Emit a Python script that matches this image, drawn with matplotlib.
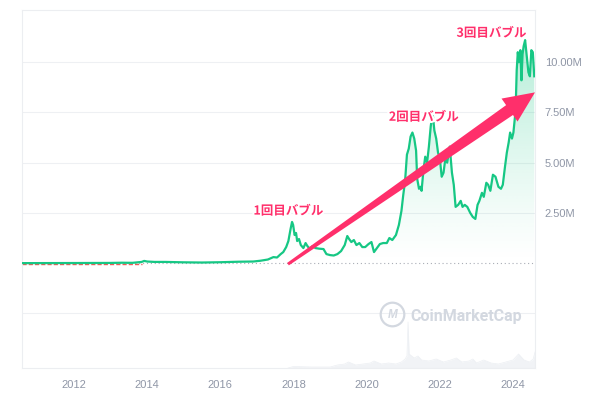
import numpy as np
import matplotlib as mpl
import matplotlib.pyplot as plt
import matplotlib.patheffects as pe
from matplotlib.patches import Polygon
from matplotlib.transforms import IdentityTransform
from matplotlib.ticker import FuncFormatter

mpl.rcParams.update({'font.family': ['Liberation Sans', 'DejaVu Sans'], 'font.size': 8})
JP = ['Noto Sans CJK JP', 'DejaVu Sans']
C_LINE, C_PINK, C_TICK, C_GRID = '#16c784', '#ff2f6b', '#8f96a6', '#eef0f3'

# BTC/JPY 価格 (単位: 百万円), 年は小数表記
years = [2010.58, 2011.0, 2011.45, 2012.0, 2012.5, 2013.0, 2013.3, 2013.6, 2013.85, 2013.92,
         2014.0, 2014.2, 2014.5, 2015.0, 2015.5, 2016.0, 2016.5, 2016.9, 2017.1, 2017.3,
         2017.45, 2017.55, 2017.65, 2017.72, 2017.8, 2017.86, 2017.92, 2017.96, 2017.99, 2018.03,
         2018.07, 2018.1, 2018.15, 2018.2, 2018.27, 2018.33, 2018.38, 2018.45, 2018.52, 2018.6,
         2018.7, 2018.82, 2018.9, 2019.0, 2019.1, 2019.2, 2019.3, 2019.4, 2019.47, 2019.52,
         2019.58, 2019.65, 2019.72, 2019.8, 2019.88, 2019.96, 2020.05, 2020.13, 2020.2, 2020.28,
         2020.36, 2020.45, 2020.55, 2020.62, 2020.7, 2020.8, 2020.88, 2020.95, 2021.0, 2021.05,
         2021.1, 2021.15, 2021.2, 2021.25, 2021.3, 2021.35, 2021.38, 2021.43, 2021.47, 2021.5,
         2021.55, 2021.6, 2021.65, 2021.7, 2021.75, 2021.8, 2021.85, 2021.9, 2021.95, 2022.0,
         2022.05, 2022.1, 2022.15, 2022.2, 2022.27, 2022.33, 2022.38, 2022.43, 2022.5, 2022.57,
         2022.62, 2022.68, 2022.75, 2022.83, 2022.9, 2022.97, 2023.03, 2023.08, 2023.15, 2023.2,
         2023.27, 2023.32, 2023.38, 2023.45, 2023.52, 2023.6, 2023.67, 2023.72, 2023.78, 2023.83,
         2023.88, 2023.92, 2023.97, 2024.01, 2024.07, 2024.1, 2024.13, 2024.16, 2024.2, 2024.23,
         2024.26, 2024.29, 2024.33, 2024.38, 2024.42, 2024.46, 2024.5, 2024.54, 2024.58]
price_m = [0.0, 0.0, 0.002, 0.005, 0.007, 0.01, 0.02, 0.015, 0.06, 0.11,
           0.08, 0.06, 0.06, 0.04, 0.03, 0.045, 0.07, 0.08, 0.12, 0.18,
           0.3, 0.28, 0.45, 0.55, 0.8, 1.1, 1.7, 2.05, 1.9, 1.4,
           1.5, 1.1, 1.2, 0.9, 0.75, 1.0, 0.85, 0.7, 0.85, 0.75,
           0.72, 0.7, 0.45, 0.4, 0.38, 0.45, 0.6, 0.9, 1.35, 1.2,
           1.05, 1.15, 0.9, 1.0, 0.8, 0.8, 0.95, 1.05, 0.55, 0.75,
           0.95, 1.0, 1.0, 1.25, 1.15, 1.4, 1.9, 2.6, 3.4, 4.1,
           5.4, 5.7, 6.3, 6.5, 6.2, 5.6, 4.2, 3.7, 3.8, 3.6,
           4.6, 5.3, 5.0, 5.8, 6.8, 7.5, 6.6, 6.2, 5.5, 5.2,
           4.3, 4.5, 5.2, 5.0, 5.8, 4.5, 3.9, 2.8, 2.9, 3.1,
           2.8, 2.9, 2.8, 2.5, 2.3, 2.2, 2.9, 3.1, 3.5, 3.3,
           4.0, 3.9, 3.6, 4.4, 4.3, 3.8, 3.7, 3.9, 4.8, 5.5,
           6.0, 6.5, 6.2, 6.5, 7.6, 9.6, 10.5, 10.0, 10.6, 9.1,
           10.4, 10.8, 11.1, 10.2, 9.5, 9.3, 10.6, 10.5, 9.3]

# 出来高 (任意単位)
vol_years = [2017.85, 2018.0, 2018.5, 2019.0, 2019.2, 2019.4, 2019.5, 2019.7, 2019.9, 2020.1,
             2020.2, 2020.4, 2020.6, 2020.8, 2020.95, 2021.05, 2021.1, 2021.13, 2021.16, 2021.3,
             2021.4, 2021.5, 2021.7, 2021.9, 2022.1, 2022.3, 2022.45, 2022.6, 2022.8, 2022.9,
             2023.0, 2023.2, 2023.4, 2023.6, 2023.8, 2024.0, 2024.15, 2024.2, 2024.3, 2024.45,
             2024.55, 2024.6]
volume = [0, 1.5, 1, 1, 3, 4, 6, 3, 4, 5,
          7, 4, 5, 4, 6, 9, 12, 46, 14, 10,
          12, 8, 7, 9, 6, 8, 10, 6, 7, 9,
          5, 8, 5, 4, 6, 8, 14, 12, 8, 6,
          9, 16]

bubbles = ['1回目バブル', '2回目バブル', '3回目バブル']
bubble_x = [2017.86, 2021.56, 2023.41]
bubble_y = [2.59, 7.26, 11.44]
yticks = [2.5, 5.0, 7.5, 10.0]
xticks = list(range(2012, 2025, 2))

fig = plt.figure(figsize=(6, 4), dpi=100)
ax = fig.add_axes([22/600, 32/400, 513/600, 358/400])
x0, x1 = 2010.58, 2024.6
ax.set_xlim(x0, x1); ax.set_ylim(-5.22, 12.6)

# 出来高 (下段)
axv = ax.twinx()
axv.set_ylim(0, 358)
axv.fill_between(vol_years, volume, color='#f1f3f6', lw=0)
axv.plot(vol_years, volume, color='#eceff3', lw=0.5)
axv.set_yticks([]); axv.set_zorder(0)
ax.set_zorder(1); ax.patch.set_visible(False)

# グリッド
for g in yticks + [-2.5]:
    ax.axhline(g, color=C_GRID, lw=0.8, zorder=0)
ax.axhline(0, color='#a9adb6', lw=0.8, ls=(0, (1, 2.5)), zorder=1)
ax.plot([x0, 2013.85], [-0.02, -0.02], color='#ef5a5a', lw=1.0, ls=(0, (3, 1.5)), zorder=2)

# グラデーション塗り
fill = ax.fill_between(years, price_m, 0, color='none', lw=0)
grad = np.linspace(0, 1, 256).reshape(-1, 1)
cols = np.zeros((256, 1, 4)); cols[..., :3] = mpl.colors.to_rgb(C_LINE)
cols[..., 3] = 0.32 * grad ** 1.2
img = ax.imshow(cols, extent=[x0, x1, 0, 11.2], origin='lower', aspect='auto', zorder=2)
img.set_clip_path(fill.get_paths()[0], ax.transData)
ax.set_xlim(x0, x1); ax.set_ylim(-5.22, 12.6)

ax.plot(years, price_m, color=C_LINE, lw=1.6, zorder=3, solid_joinstyle='round')

# 軸
for s in ax.spines.values():
    s.set_color('#eceef1'); s.set_linewidth(0.8)
for s in axv.spines.values():
    s.set_visible(False)
ax.yaxis.tick_right()
ax.set_yticks(yticks)
ax.yaxis.set_major_formatter(FuncFormatter(lambda v, p: f'{v:.2f}M'))
ax.set_xticks(xticks)
ax.tick_params(axis='both', length=0, colors=C_TICK, labelsize=8)
ax.tick_params(axis='y', pad=7)
ax.tick_params(axis='x', pad=9)

# ウォーターマーク
ax.plot([0.722], [0.15], transform=ax.transAxes, marker='o', ms=17, mfc='none',
        mec='#d3d8e0', mew=1.6, zorder=1)
ax.text(0.722, 0.148, 'M', transform=ax.transAxes, ha='center', va='center',
        fontsize=8.5, color='#d3d8e0', fontweight='bold', style='italic', zorder=1)
ax.text(0.758, 0.145, 'CoinMarketCap', transform=ax.transAxes, ha='left', va='center',
        fontsize=11.5, color='#d3d8e0', fontweight='bold', family=['Roboto', 'DejaVu Sans'], zorder=1)

# 矢印
fig.canvas.draw()
tail = ax.transData.transform((2017.85, -0.05))
tip = ax.transData.transform((x1, 8.5))
d = (tip - tail) / np.hypot(*(tip - tail)); n = np.array([-d[1], d[0]])
base = tip - d * 31
pts = [tail + n * 1.5, base + n * 6, base + n * 14, tip, base - n * 14, base - n * 6, tail - n * 1.5]
ax.add_patch(Polygon(pts, closed=True, transform=IdentityTransform(), color=C_PINK,
                     lw=0, zorder=5, clip_on=False))

for t, bx, by in zip(bubbles, bubble_x, bubble_y):
    ax.text(bx, by, t, ha='center', va='center', fontsize=9, fontweight='bold', color=C_PINK,
            family=JP, zorder=6,
            path_effects=[pe.withStroke(linewidth=3, foreground='white')])

fig.savefig('out.png', dpi=100)
